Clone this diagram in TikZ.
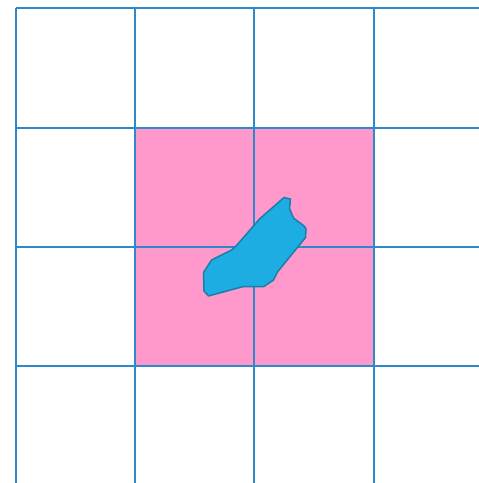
\documentclass[tikz,border=0pt]{standalone}
\usetikzlibrary{calc}
\definecolor{gridblue}{HTML}{2F88CC}
\definecolor{cellpink}{HTML}{FF99CC}
\definecolor{blobfill}{HTML}{1EADE2}
\definecolor{blobline}{HTML}{1A7EA6}

\begin{document}
\begin{tikzpicture}[
    x=1pt, y=-1pt,
    gridline/.style={draw=gridblue, line width=2pt},
    cell/.style={fill=cellpink},
    blob/.style={fill=blobfill, draw=blobline, line width=1.5pt, line join=round},
  ]
  \useasboundingbox (0,0) rectangle (479,483);
  % highlighted 2x2 block
  \fill[cell] (135,127.5) rectangle (373.5,366);
  % grid lines
  \foreach \gx in {15.5,135,254,373.5}
    \draw[gridline] (\gx,8) -- (\gx,483);
  \foreach \gy in {8,127.5,246.5,366}
    \draw[gridline] (15.5,\gy) -- (479,\gy);
  % the shape
  \draw[blob] (284,197.5) -- (290.5,199) -- (289.5,208.5) -- (293.5,218)
    -- (303.5,225.5) -- (306,228.5) -- (305.5,237.5) -- (277.5,272)
    -- (273.5,280) -- (264,286.5) -- (243.5,286.5) -- (208.5,296)
    -- (204,291) -- (203.5,272.5) -- (211.5,260) -- (231.5,250)
    -- (236.5,245.5) -- (260,218.5) -- (271.5,208.5) -- cycle;
\end{tikzpicture}
\end{document}
